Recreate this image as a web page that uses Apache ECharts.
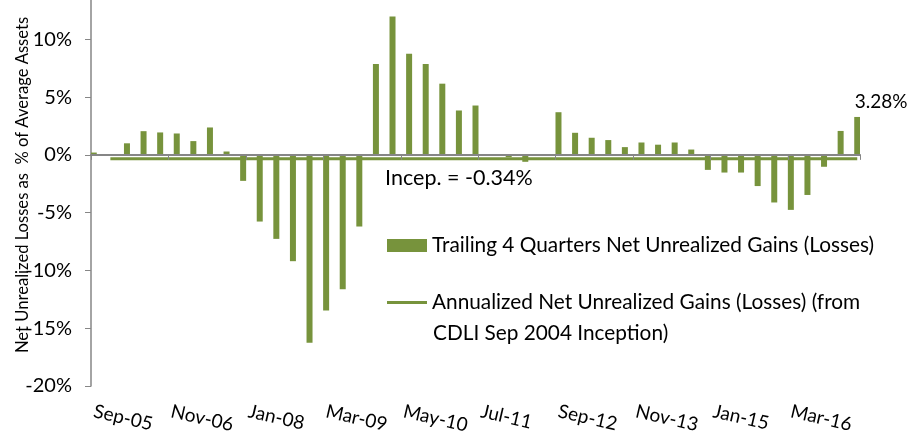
<!DOCTYPE html>
<html>
<head>
<meta charset="utf-8">
<script src="https://cdn.jsdelivr.net/npm/echarts@6/dist/echarts.min.js"></script>
<style>
  html, body { margin: 0; padding: 0; background: #fff; }
  #chart { width: 911px; height: 442px; }
</style>
</head>
<body>
<div id="chart"></div>
<script>
// quarter ends shown as bars
const quarters = [
    'Sep-05', 'Dec-05',
    'Mar-06', 'Jun-06', 'Sep-06', 'Dec-06',
    'Mar-07', 'Jun-07', 'Sep-07', 'Dec-07',
    'Mar-08', 'Jun-08', 'Sep-08', 'Dec-08',
    'Mar-09', 'Jun-09', 'Sep-09', 'Dec-09',
    'Mar-10', 'Jun-10', 'Sep-10', 'Dec-10',
    'Mar-11', 'Jun-11', 'Sep-11', 'Dec-11',
    'Mar-12', 'Jun-12', 'Sep-12', 'Dec-12',
    'Mar-13', 'Jun-13', 'Sep-13', 'Dec-13',
    'Mar-14', 'Jun-14', 'Sep-14', 'Dec-14',
    'Mar-15', 'Jun-15', 'Sep-15', 'Dec-15',
    'Mar-16', 'Jun-16', 'Sep-16', 'Dec-16',
    'Mar-17'
];

// trailing 4 quarters net unrealized gains (losses), % of average assets
const trailingGains = [
    0.2, 0,
    1.0, 2.05, 1.94, 1.85,
    1.19, 2.37, 0.29, -2.25,
    -5.77, -7.27, -9.2, -16.25,
    -13.47, -11.63, -6.2, 7.86,
    11.97, 8.75, 7.86, 6.16,
    3.84, 4.27, 0, -0.2,
    -0.6, -0.1, 3.69, 1.91,
    1.48, 1.28, 0.67, 1.07,
    0.88, 1.07, 0.46, -1.3,
    -1.53, -1.53, -2.7, -4.12,
    -4.76, -3.47, -1.03, 2.07,
    3.28
];

// annualized since inception (Sep 2004)
const inceptionAvg = -0.34;
const lineStart = 'Dec-05';
const incepLabelAt = 'Mar-11';

const barName = 'Trailing 4 Quarters Net Unrealized Gains (Losses)';
const lineName = 'Annualized Net Unrealized Gains (Losses) (from';
const lineName2 = 'CDLI Sep 2004 Inception)';

// monthly date axis, Sep-05 .. Mar-17
const monthNames = ['Jan', 'Feb', 'Mar', 'Apr', 'May', 'Jun', 'Jul', 'Aug', 'Sep', 'Oct', 'Nov', 'Dec'];
const months = [];
for (let y = 2005, m = 8; months.length === 0 || months[months.length - 1] !== 'Mar-17'; ) {
    months.push(monthNames[m] + '-' + String(y % 100).padStart(2, '0'));
    m++;
    if (m === 12) { m = 0; y++; }
}

const barData = months.map(function (mo) {
    const i = quarters.indexOf(mo);
    return i < 0 ? null : trailingGains[i];
});
const startIdx = quarters.indexOf(lineStart);
const lineData = months.map(function (mo) {
    const i = quarters.indexOf(mo);
    return i >= startIdx ? inceptionAvg : null;
});
const lastBar = months.indexOf(quarters[quarters.length - 1]);

const FONT = 'Lato';
const green = '#77933C';

var myChart = echarts.init(document.getElementById('chart'));

var option = {
    animation: false,
    textStyle: { fontFamily: FONT, color: '#000' },
    grid: { left: 91, right: 51, top: 0, bottom: 56, outerBoundsMode: 'none' },
    legend: [
        {
            data: [barName],
            left: 387, top: 235,
            padding: 0,
            icon: 'rect',
            itemWidth: 40, itemHeight: 13,
            textStyle: { fontFamily: FONT, fontSize: 20.8, color: '#000' }
        },
        {
            data: [lineName],
            left: 387, top: 292,
            padding: 0,
            icon: 'rect',
            itemWidth: 40, itemHeight: 3,
            textStyle: { fontFamily: FONT, fontSize: 20.8, color: '#000' }
        }
    ],
    graphic: [
        {
            type: 'text',
            left: 433, top: 323,
            style: { text: lineName2, fontFamily: FONT, fontSize: 20.8, fill: '#000' }
        }
    ],
    xAxis: [
        {
            type: 'category',
            data: months,
            boundaryGap: true,
            z: 5,
            axisLine: { onZero: true, lineStyle: { color: '#868686', width: 2 } },
            axisTick: { show: true, interval: 13, length: 5, lineStyle: { color: '#868686' } },
            axisLabel: { show: false }
        },
        {
            type: 'category',
            data: months,
            boundaryGap: true,
            position: 'bottom',
            axisLine: { show: false, onZero: false },
            axisTick: { show: false },
            axisLabel: {
                interval: 13,
                rotate: -13,
                margin: 25,
                fontFamily: FONT,
                fontSize: 19,
                color: '#000'
            }
        }
    ],
    yAxis: {
        type: 'value',
        min: -20,
        max: 13.4,
        interval: 5,
        name: 'Net Unrealized Losses as  % of Average Assets',
        nameLocation: 'middle',
        nameGap: 60,
        nameMoveOverlap: false,
        nameTextStyle: { fontFamily: FONT, fontSize: 16.6, color: '#000', padding: [0, 0, 0, 16] },
        axisLine: { show: true, lineStyle: { color: '#868686', width: 1.5 } },
        axisTick: { show: true, length: 6, lineStyle: { color: '#868686' } },
        splitLine: { show: false },
        axisLabel: {
            showMaxLabel: false,
            formatter: function (v) { return v % 5 === 0 ? v + '%' : ''; },
            margin: 19,
            fontFamily: FONT,
            fontSize: 20,
            color: '#000'
        }
    },
    series: [
        {
            name: barName,
            type: 'bar',
            xAxisIndex: 0,
            data: barData,
            barWidth: 6,
            itemStyle: { color: green },
            label: {
                show: true,
                position: 'top',
                distance: 6,
                offset: [24, 0],
                fontFamily: FONT,
                fontSize: 19,
                color: '#000',
                formatter: function (p) {
                    return p.dataIndex === lastBar ? p.value.toFixed(2) + '%' : '';
                }
            }
        },
        {
            name: lineName,
            type: 'line',
            xAxisIndex: 0,
            data: lineData,
            connectNulls: true,
            showSymbol: false,
            symbol: 'none',
            z: 3,
            itemStyle: { color: green },
            lineStyle: { color: green, width: 3 },
            markPoint: {
                symbol: 'circle',
                symbolSize: 0,
                data: [{ coord: [incepLabelAt, inceptionAvg], value: inceptionAvg }],
                label: {
                    show: true,
                    position: 'bottom',
                    distance: 8,
                    fontFamily: FONT,
                    fontSize: 21.5,
                    color: '#000',
                    formatter: function (p) {
                        return 'Incep. = ' + p.value.toFixed(2) + '%';
                    }
                }
            }
        }
    ]
};

myChart.setOption(option);
</script>
</body>
</html>
